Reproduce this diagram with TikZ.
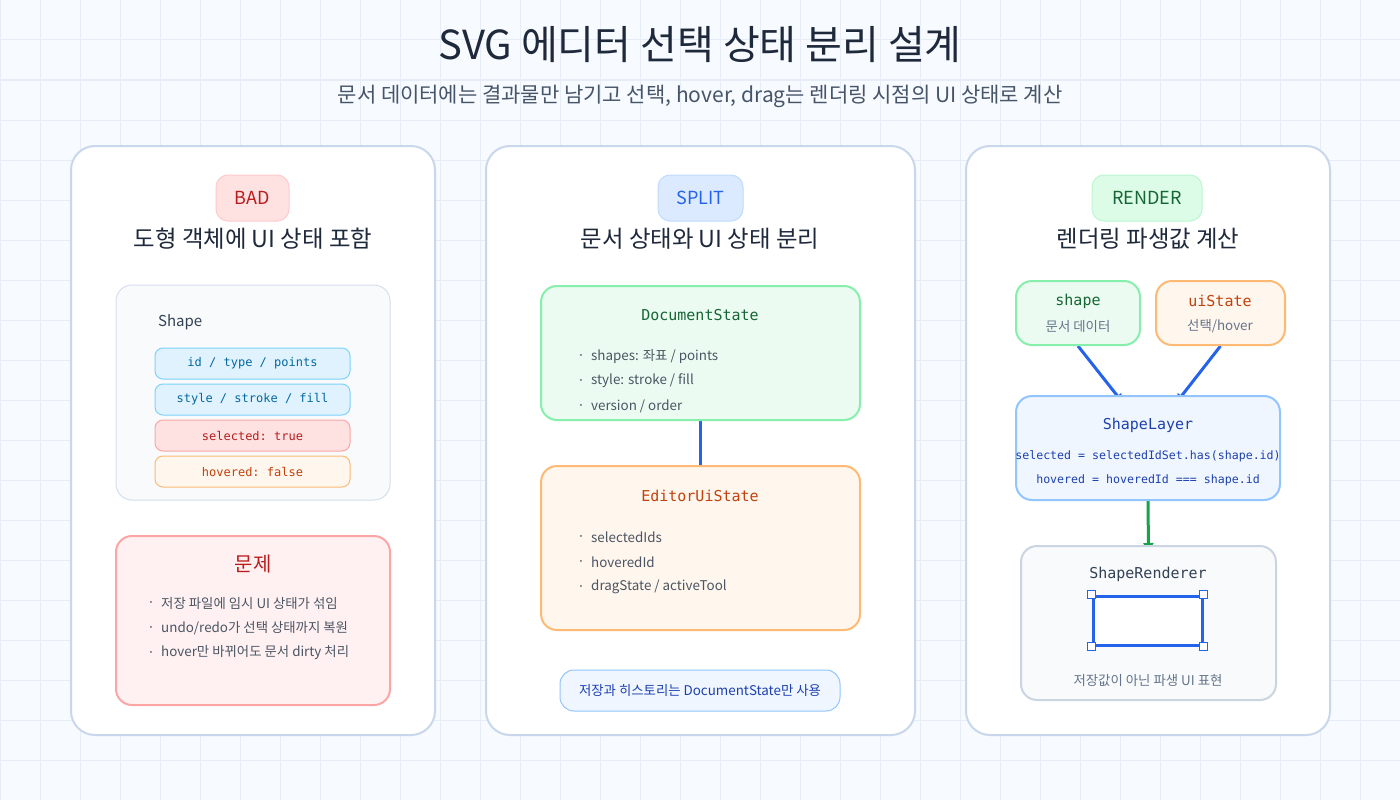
\documentclass[tikz,border=0pt]{standalone}
\usepackage{fontspec}
\setmainfont{Noto Sans CJK KR}
\setmonofont{DejaVu Sans Mono}
\usetikzlibrary{arrows.meta}
\definecolor{bgc}{HTML}{F7FAFE}
\definecolor{gridc}{HTML}{E6EDF6}
\definecolor{cardline}{HTML}{C9D7EC}
\definecolor{ink}{HTML}{1E293B}
\definecolor{sub}{HTML}{475569}
\definecolor{body}{HTML}{4B5563}
\definecolor{redfill}{HTML}{FEE2E2}
\definecolor{redline}{HTML}{FCA5A5}
\definecolor{redpill}{HTML}{FECACA}
\definecolor{redtext}{HTML}{B91C1C}
\definecolor{bluefill}{HTML}{DBEAFE}
\definecolor{blueline}{HTML}{BFDBFE}
\definecolor{bluetext}{HTML}{2563EB}
\definecolor{greenfill}{HTML}{DCFCE7}
\definecolor{greenpill}{HTML}{BBF7D0}
\definecolor{greentext}{HTML}{166534}
\definecolor{mintfill}{HTML}{EBFBF1}
\definecolor{mintline}{HTML}{86EFAC}
\definecolor{orfill}{HTML}{FFF6ED}
\definecolor{orline}{HTML}{FDBA74}
\definecolor{ortext}{HTML}{C2410C}
\definecolor{skyfill}{HTML}{E0F2FE}
\definecolor{skyline}{HTML}{7DD3FC}
\definecolor{skytext}{HTML}{0369A1}
\definecolor{slatefill}{HTML}{F8FAFC}
\definecolor{slateline}{HTML}{D5DFEC}
\definecolor{lightblue}{HTML}{EFF6FF}
\definecolor{midblue}{HTML}{93C5FD}
\definecolor{navy}{HTML}{1E40AF}
\definecolor{probfill}{HTML}{FFF1F2}
\definecolor{arrowblue}{HTML}{2563EB}
\definecolor{arrowgreen}{HTML}{16A34A}
\definecolor{rendline}{HTML}{CBD5E1}
\definecolor{dark}{HTML}{334155}
\definecolor{gray}{HTML}{64748B}
\pgfdeclarelayer{cards}
\pgfdeclarelayer{edges}
\pgfsetlayers{cards,edges,main}
\tikzset{
  card/.style={draw=cardline, line width=2pt, fill=white, rounded corners=24pt, inner sep=0pt},
  pill/.style={line width=1pt, rounded corners=12pt, inner sep=0pt, font=\fontsize{18}{20}\selectfont},
  heading/.style={text=ink, font=\fontsize{23.4}{27}\selectfont},
  field/.style={line width=1pt, rounded corners=8pt, minimum width=195pt, minimum height=31pt, inner sep=0pt, font=\ttfamily\fontsize{12}{14}\selectfont},
  panel/.style={line width=2pt, rounded corners=16pt, inner sep=0pt},
  monotitle/.style={font=\ttfamily\fontsize{15}{18}\selectfont},
  bul/.style={anchor=west, text=body, font=\fontsize{13.4}{16}\selectfont, inner sep=0pt},
  dot/.style={text=body, font=\fontsize{7}{8}\selectfont, inner sep=0pt},
  conn/.style={line width=3pt},
  handle/.style={draw=arrowblue, fill=white, line width=1.5pt, minimum size=8pt, inner sep=0pt}
}
\begin{document}
\begin{tikzpicture}[x=1pt,y=-1pt]
\useasboundingbox (0,0) rectangle (1400,800);
\begin{pgfonlayer}{cards}
\fill[bgc] (0,0) rectangle (1400,800);
\foreach \gx in {0,40,...,1400} \draw[gridc, line width=1pt] (\gx,0) -- (\gx,800);
\foreach \gy in {0,40,...,800} \draw[gridc, line width=1pt] (0,\gy) -- (1400,\gy);
\node[card, minimum width=364pt, minimum height=589pt] (card1) at (253,440.5) {};
\node[card, minimum width=429pt, minimum height=589pt] (card2) at (700.5,440.5) {};
\node[card, minimum width=364pt, minimum height=589pt] (card3) at (1148,440.5) {};
\end{pgfonlayer}

% title
\node[text=ink, font=\fontsize{40}{44}\selectfont] (title) at (700,45) {SVG 에디터 선택 상태 분리 설계};
\node[text=sub, font=\fontsize{21}{25}\selectfont] (subtitle) at (700,96) {문서 데이터에는 결과물만 남기고 선택, hover, drag는 렌더링 시점의 UI 상태로 계산};

% card 1
\node[pill, fill=redfill, draw=redpill, text=redtext, minimum width=73pt, minimum height=46pt] (bad) at (252.5,198) {BAD};
\node[heading] (h1) at (253,239) {도형 객체에 UI 상태 포함};
\node[panel, line width=1pt, fill=slatefill, draw=slateline, minimum width=274pt, minimum height=215pt] (shapebox) at (253,392.5) {};
\node[anchor=west, text=dark, font=\fontsize{15}{18}\selectfont, inner sep=0pt] (shapelbl) at (158,322) {Shape};
\node[field, fill=skyfill, draw=skyline, text=skytext] (f1) at (252.5,363.5) {id / type / points};
\node[field, fill=skyfill, draw=skyline, text=skytext] (f2) at (252.5,399.5) {style / stroke / fill};
\node[field, fill=redfill, draw=redline, text=redtext] (f3) at (252.5,435.5) {selected: true};
\node[field, fill=orfill, draw=orline, text=ortext] (f4) at (252.5,471.5) {hovered: false};
\node[panel, fill=probfill, draw=redline, minimum width=274pt, minimum height=169pt] (prob) at (253,620.5) {};
\node[text=redtext, font=\fontsize{20}{24}\selectfont] (probt) at (253,564) {문제};
\node[dot] (pd1) at (151,603) {•};
\node[bul] (p1) at (161,603) {저장 파일에 임시 UI 상태가 섞임};
\node[dot] (pd2) at (151,628) {•};
\node[bul] (p2) at (161,628) {undo/redo가 선택 상태까지 복원};
\node[dot] (pd3) at (151,653) {•};
\node[bul] (p3) at (161,653) {hover만 바뀌어도 문서 dirty 처리};

% card 2
\node[pill, fill=bluefill, draw=blueline, text=bluetext, minimum width=85pt, minimum height=46pt] (split) at (700.5,198) {SPLIT};
\node[heading] (h2) at (700,239) {문서 상태와 UI 상태 분리};
\node[panel, fill=mintfill, draw=mintline, minimum width=319pt, minimum height=134pt] (doc) at (700.5,353) {};
\node[monotitle, text=greentext] (doct) at (700,315) {DocumentState};
\node[dot] (dd1) at (581,356) {•};
\node[bul] (d1) at (591,356) {shapes: 좌표 / points};
\node[dot] (dd2) at (581,381) {•};
\node[bul] (d2) at (591,381) {style: stroke / fill};
\node[dot] (dd3) at (581,406) {•};
\node[bul] (d3) at (591,406) {version / order};
\node[panel, fill=orfill, draw=orline, minimum width=319pt, minimum height=164pt] (ui) at (700.5,548) {};
\node[monotitle, text=ortext] (uit) at (700,496) {EditorUiState};
\node[dot] (ud1) at (581,537) {•};
\node[bul] (u1) at (591,537) {selectedIds};
\node[dot] (ud2) at (581,562) {•};
\node[bul] (u2) at (591,562) {hoveredId};
\node[dot] (ud3) at (581,587) {•};
\node[bul] (u3) at (591,587) {dragState / activeTool};
\node[draw=midblue, fill=lightblue, line width=1pt, rounded corners=14pt, minimum width=280pt, minimum height=41pt, inner sep=0pt, text=navy, font=\fontsize{13.4}{16}\selectfont] (note) at (700,690.5) {저장과 히스토리는 DocumentState만 사용};

% card 3
\node[pill, fill=greenfill, draw=greenpill, text=greentext, minimum width=110pt, minimum height=46pt] (render) at (1147,198) {RENDER};
\node[heading] (h3) at (1148,239) {렌더링 파생값 계산};
\node[panel, fill=mintfill, draw=mintline, minimum width=124pt, minimum height=64pt] (shp) at (1078,313) {};
\node[monotitle, text=greentext] (shpt) at (1078,301) {shape};
\node[text=gray, font=\fontsize{13.4}{16}\selectfont] (shps) at (1078,326) {문서 데이터};
\node[panel, fill=orfill, draw=orline, minimum width=129pt, minimum height=64pt] (uis) at (1220.5,313) {};
\node[monotitle, text=ortext] (uist) at (1220,301) {uiState};
\node[text=gray, font=\fontsize{13.4}{16}\selectfont] (uiss) at (1220,326) {선택/hover};
\node[panel, fill=lightblue, draw=midblue, minimum width=264pt, minimum height=104pt] (layer) at (1148,448) {};
\node[monotitle, text=navy] (layert) at (1148,425) {ShapeLayer};
\node[text=navy, font=\ttfamily\fontsize{11.6}{14}\selectfont] (l1) at (1148,456) {selected = selectedIdSet.has(shape.id)};
\node[text=navy, font=\ttfamily\fontsize{11.6}{14}\selectfont] (l2) at (1148,480) {hovered = hoveredId === shape.id};
\node[panel, fill=slatefill, draw=rendline, minimum width=255pt, minimum height=154pt] (rend) at (1148.5,623) {};
\node[monotitle, text=dark] (rendt) at (1148,574) {ShapeRenderer};
\node[draw=arrowblue, fill=white, line width=3pt, minimum width=109pt, minimum height=49pt, inner sep=0pt] (sel) at (1147.5,620.5) {};
\node[handle] (hnw) at (sel.north west) {};
\node[handle] (hne) at (sel.north east) {};
\node[handle] (hsw) at (sel.south west) {};
\node[handle] (hse) at (sel.south east) {};
\node[text=gray, font=\fontsize{13.4}{16}\selectfont] (rends) at (1148,680) {저장값이 아닌 파생 UI 표현};

% connectors (tips tucked under the target boxes)
\coordinate (la) at ([xshift=-25pt,yshift=-8pt]layer.north);
\coordinate (lb) at ([xshift=28pt,yshift=-8pt]layer.north);
\begin{pgfonlayer}{edges}
\draw[conn, arrowblue] (doc.south) -- (ui.north);
\draw[conn, arrowblue, -{Triangle[length=9pt,width=9pt]}] (shp.south) -- (la);
\draw[conn, arrowblue, -{Triangle[length=9pt,width=9pt]}] (uis.south) -- (lb);
\draw[conn, arrowgreen, -{Triangle[length=9pt,width=10pt]}] (layer.south) -- ([yshift=-7pt]rend.north);
\end{pgfonlayer}
\end{tikzpicture}
\end{document}
